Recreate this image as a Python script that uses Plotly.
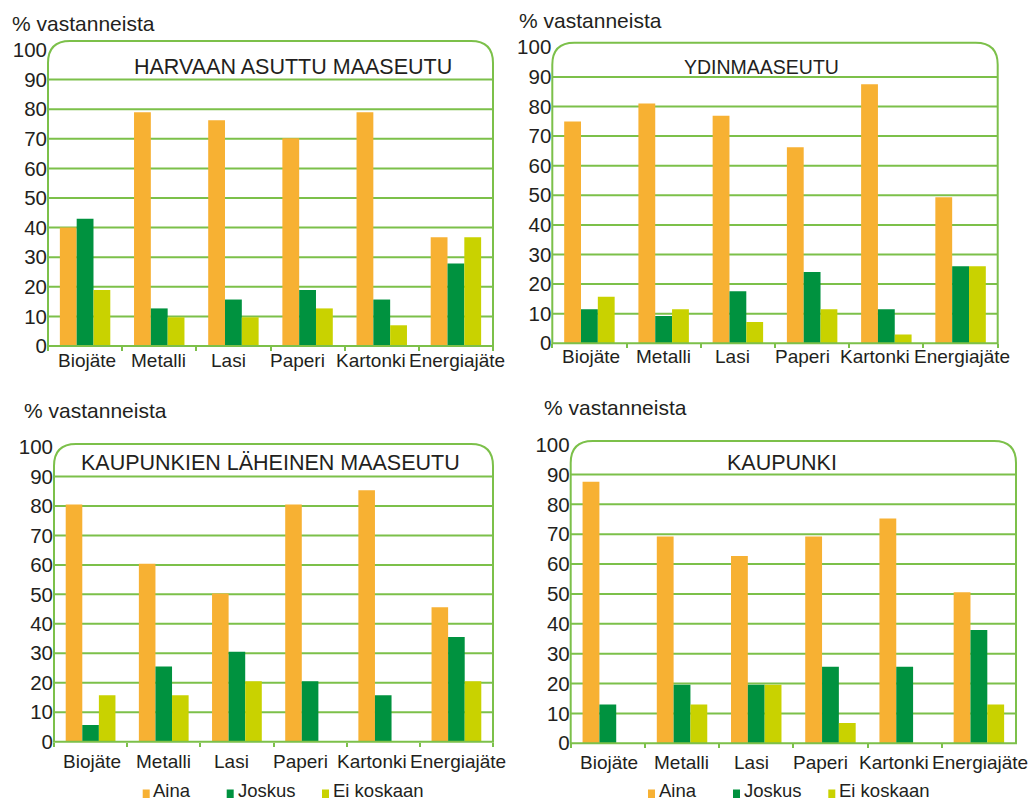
import plotly.graph_objects as go

# ---------------- data ----------------
categories = ["Biojäte", "Metalli", "Lasi", "Paperi", "Kartonki", "Energiajäte"]
series_names = ["Aina", "Joskus", "Ei koskaan"]
panel_titles = ["HARVAAN ASUTTU MAASEUTU", "YDINMAASEUTU",
                "KAUPUNKIEN LÄHEINEN MAASEUTU", "KAUPUNKI"]
y_title = "% vastanneista"
y_ticks = [0, 10, 20, 30, 40, 50, 60, 70, 80, 90, 100]

harvaan_aina = [40, 79, 76.3, 70.2, 79, 36.7]
harvaan_joskus = [43, 12.7, 15.7, 18.9, 15.7, 27.9]
harvaan_ei = [18.9, 9.7, 9.7, 12.7, 7, 36.7]

ydin_aina = [74.9, 81, 76.9, 66.2, 87.5, 49.3]
ydin_joskus = [11.5, 9.2, 17.6, 24.1, 11.5, 26.0]
ydin_ei = [15.7, 11.5, 7.2, 11.5, 3.0, 26.0]

lahe_aina = [80.5, 60.4, 50.3, 80.5, 85.3, 45.6]
lahe_joskus = [5.7, 25.5, 30.5, 20.5, 15.8, 35.5]
lahe_ei = [15.8, 15.8, 20.5, 0, 0, 20.5]

kaup_aina = [87.6, 69.2, 62.7, 69.2, 75.3, 50.6]
kaup_joskus = [13.0, 19.6, 19.6, 25.6, 25.6, 37.9]
kaup_ei = [0, 13.0, 19.6, 6.8, 0, 13.0]

panel_data = [
    (harvaan_aina, harvaan_joskus, harvaan_ei),
    (ydin_aina, ydin_joskus, ydin_ei),
    (lahe_aina, lahe_joskus, lahe_ei),
    (kaup_aina, kaup_joskus, kaup_ei),
]

# ---------------- style / layout ----------------
W, H = 1032, 801
COLORS = ["#F7B133", "#00923F", "#C9D200"]
GREEN = "#7CC04A"
TEXT = "#231F20"
FONT = "Liberation Sans, Arial, sans-serif"

# pixel geometry of each panel
geo = [
    dict(left=48, right=493, y0=346, y100=50, top=41, r=22,
         tx=293, ty=67, tsize=21.5, lx=10, ly=24, lab_dy=14.5),
    dict(left=552.3, right=997.7, y0=343.3, y100=47.3, top=42.7, r=22,
         tx=761, ty=67, tsize=19.5, lx=516.5, ly=21, lab_dy=13.5),
    dict(left=54, right=493, y0=741.7, y100=447, top=444, r=22,
         tx=270, ty=463, tsize=21.5, lx=21.5, ly=410, lab_dy=19.5),
    dict(left=570.7, right=1016, y0=743.3, y100=444.6, top=441, r=22,
         tx=781.7, ty=463, tsize=21.5, lx=541.5, ly=407, lab_dy=19),
]
# horizontal nudges of the category labels (px)
label_shift = [1.5, -0.5, -5, -10, -11, 1.5]

legend_pos = [
    [(142.7, 150.7), (226.7, 235.5), (322, 330.5)],
    [(648, 656.5), (733, 742), (828.3, 837)],
]
legend_y = 790


def px(x):
    return x / W


def py(y):
    return 1 - y / H


fig = go.Figure()
shapes = []
annotations = []

for i, (g, data) in enumerate(zip(geo, panel_data)):
    n = "" if i == 0 else str(i + 1)
    xa, ya = "x" + n, "y" + n
    for s, (name, vals) in enumerate(zip(series_names, data)):
        fig.add_trace(go.Bar(
            x=categories, y=vals, name=name, xaxis=xa, yaxis=ya,
            marker=dict(color=COLORS[s], line=dict(width=0)),
            showlegend=False, hoverinfo="skip",
        ))
    fig.update_layout(**{
        "xaxis" + n: dict(
            domain=[px(g["left"]), px(g["right"])], anchor=ya,
            type="category", range=[-0.5, len(categories) - 0.5], autorange=False,
            showgrid=False, showline=False, zeroline=False,
            ticks="outside", tickson="boundaries", ticklen=4, tickwidth=2,
            tickcolor=GREEN, showticklabels=False, fixedrange=True,
        ),
        "yaxis" + n: dict(
            domain=[py(g["y0"]), py(g["y100"])], anchor=xa,
            range=[0, 100], autorange=False, tickvals=y_ticks, showgrid=False,
            showline=False, zeroline=False, ticks="",
            tickfont=dict(size=20.5, color=TEXT, family=FONT),
            fixedrange=True,
        ),
    })
    # category labels
    for c, sh in zip(categories, label_shift):
        annotations.append(dict(text=c, x=c, y=0, xref=xa, yref=ya,
                                showarrow=False, xanchor="center", yanchor="middle",
                                xshift=sh, yshift=-g["lab_dy"],
                                font=dict(size=19, color=TEXT, family=FONT)))
    # grid lines 10..90
    for v in y_ticks[1:-1]:
        shapes.append(dict(type="line", xref=xa + " domain", yref=ya,
                           x0=0, x1=1, y0=v, y1=v, layer="below",
                           line=dict(color=GREEN, width=2)))
    # rounded frame
    L, R, B, T, r = g["left"], g["right"], g["y0"], g["top"], g["r"]
    path = (f"M {px(L)},{py(B)} L {px(L)},{py(T + r)} "
            f"Q {px(L)},{py(T)} {px(L + r)},{py(T)} "
            f"L {px(R - r)},{py(T)} "
            f"Q {px(R)},{py(T)} {px(R)},{py(T + r)} "
            f"L {px(R)},{py(B)} Z")
    shapes.append(dict(type="path", xref="paper", yref="paper", path=path,
                       line=dict(color=GREEN, width=2), layer="above"))
    # title inside frame
    annotations.append(dict(text=panel_titles[i], x=px(g["tx"]), y=py(g["ty"]),
                            xref="paper", yref="paper", showarrow=False,
                            xanchor="center", yanchor="middle",
                            font=dict(size=g["tsize"], color=TEXT, family=FONT)))
    # y-axis title
    annotations.append(dict(text=y_title, x=px(g["lx"]), y=py(g["ly"]),
                            xref="paper", yref="paper", showarrow=False,
                            xanchor="left", yanchor="middle",
                            font=dict(size=21, color=TEXT, family=FONT)))

# manual legends under the lower panels
for lp in legend_pos:
    for s, (sq_x, txt_x) in enumerate(lp):
        shapes.append(dict(type="rect", xref="paper", yref="paper",
                           x0=px(sq_x), x1=px(sq_x + 7), y0=py(798), y1=py(789.5),
                           fillcolor=COLORS[s], line=dict(width=0)))
        annotations.append(dict(text=series_names[s], x=px(txt_x), y=py(legend_y),
                                xref="paper", yref="paper", showarrow=False,
                                xanchor="left", yanchor="middle",
                                font=dict(size=18.5, color=TEXT, family=FONT)))

fig.update_layout(
    width=W, height=H, margin=dict(l=0, r=0, t=0, b=0, pad=0, autoexpand=False),
    paper_bgcolor="white", plot_bgcolor="white",
    barmode="group", bargap=0.32, bargroupgap=0,
    showlegend=False, shapes=shapes, annotations=annotations,
    font=dict(family=FONT, color=TEXT),
)

fig.write_html(
    "out.html",
    post_script="document.body.style.margin='0px';document.body.style.overflow='hidden';",
)
